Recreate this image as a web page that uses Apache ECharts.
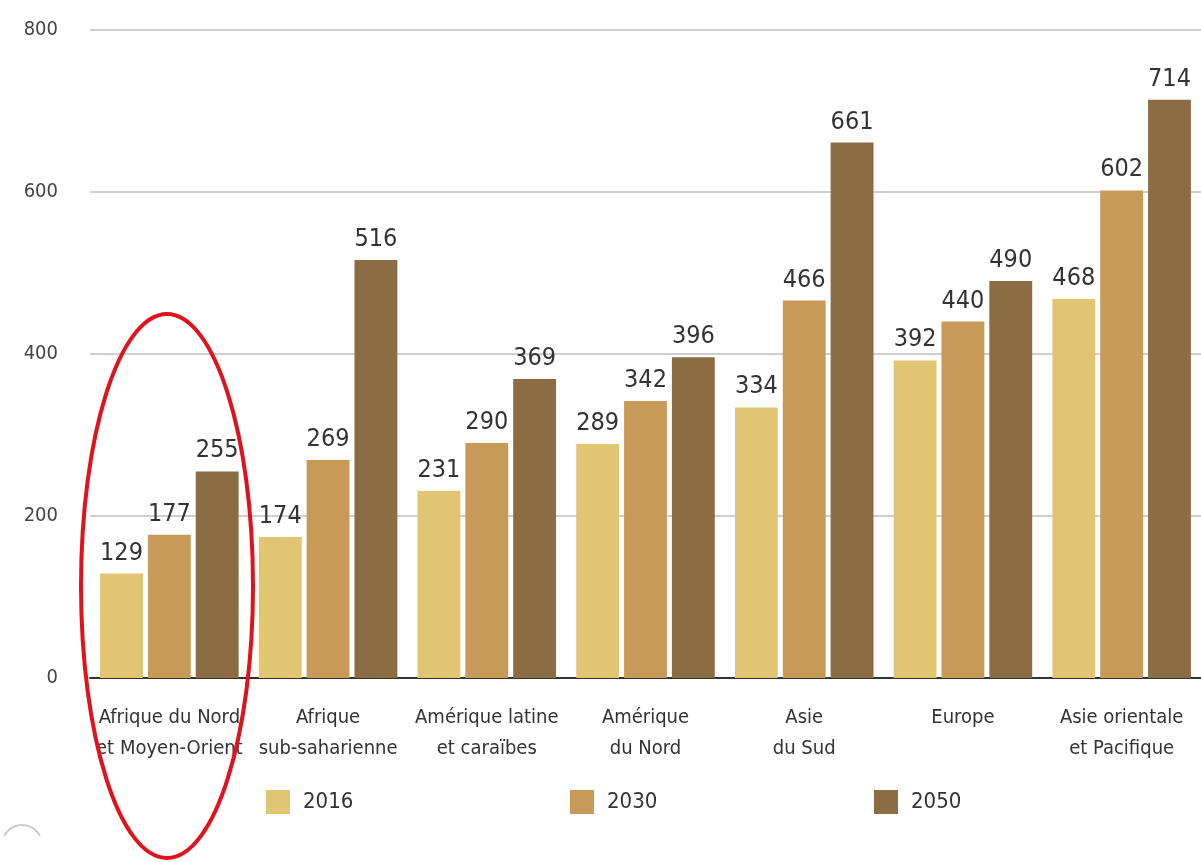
<!DOCTYPE html>
<html>
<head>
<meta charset="utf-8">
<script src="https://cdn.jsdelivr.net/npm/echarts@6/dist/echarts.min.js"></script>
<style>
html,body{margin:0;padding:0;background:#fff;}
#chart{width:1201px;height:862px;}
</style>
</head>
<body>
<div id="chart"></div>
<script>
const categories = ["Afrique du Nord\net Moyen-Orient", "Afrique\nsub-saharienne", "Amérique latine\net caraïbes", "Amérique\ndu Nord", "Asie\ndu Sud", "Europe", "Asie orientale\net Pacifique"];
const seriesNames = ["2016", "2030", "2050"];
const values2016 = [129, 174, 231, 289, 334, 392, 468];
const values2030 = [177, 269, 290, 342, 466, 440, 602];
const values2050 = [255, 516, 369, 396, 661, 490, 714];
const yTicks = [0, 200, 400, 600, 800];

const colors = ["#E2C572", "#C89A57", "#8C6C42"];
const fontFam = '"DejaVu Sans Condensed", "Liberation Sans Narrow", "Roboto", sans-serif';
const allValues = [values2016, values2030, values2050];
const legendLefts = [266, 570, 874];

const chart = echarts.init(document.getElementById('chart'), null, {renderer: 'canvas'});
const option = {
  animation: false,
  backgroundColor: '#fff',
  color: colors,
  grid: {left: 90, top: 30, width: 1115, height: 648, containLabel: false},
  legend: seriesNames.map((n, i) => ({
    data: [n],
    left: legendLefts[i],
    top: 790,
    padding: 0,
    itemWidth: 24,
    itemHeight: 24,
    icon: 'rect',
    textStyle: {fontFamily: fontFam, fontSize: 22, color: '#333', padding: [0, 0, 0, 8]}
  })),
  xAxis: {
    type: 'category',
    data: categories,
    axisLine: {show: true, lineStyle: {color: '#333', width: 2}},
    axisTick: {show: false},
    axisLabel: {fontFamily: fontFam, fontSize: 20, color: '#333', lineHeight: 31, margin: 24, interval: 0}
  },
  yAxis: {
    type: 'value',
    min: yTicks[0],
    max: yTicks[yTicks.length - 1],
    interval: 200,
    axisLine: {show: false},
    axisTick: {show: false},
    splitLine: {lineStyle: {color: '#cfcfcf', width: 2}},
    axisLabel: {fontFamily: fontFam, fontSize: 20, color: '#444', margin: 32}
  },
  series: seriesNames.map((name, i) => ({
    name: name,
    type: 'bar',
    data: allValues[i],
    barGap: '11.6%',
    barCategoryGap: '12.7%',
    itemStyle: {color: colors[i]},
    label: {show: true, position: 'top', distance: 8, fontFamily: fontFam, fontSize: 25, color: '#333'}
  })),
  graphic: [{
    type: 'ellipse',
    shape: {cx: 167, cy: 586, rx: 86, ry: 272},
    style: {fill: 'none', stroke: '#E0131C', lineWidth: 4},
    z: 100
  }, {
    type: 'arc',
    shape: {cx: 22, cy: 845, r: 20, startAngle: Math.PI * 1.15, endAngle: Math.PI * 1.85},
    style: {stroke: '#cccccc', lineWidth: 2, fill: 'none'},
    z: 100
  }]
};
chart.setOption(option);
</script>
</body>
</html>
